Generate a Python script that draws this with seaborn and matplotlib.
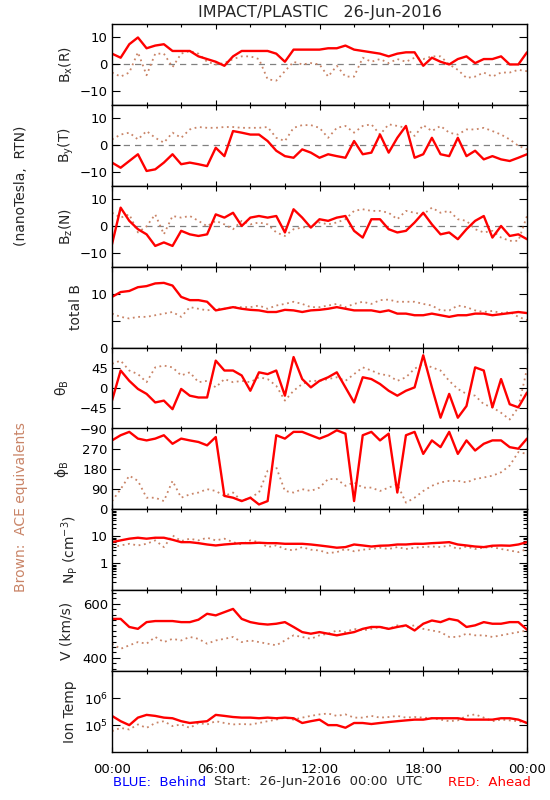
import numpy as np
import pandas as pd
import matplotlib
matplotlib.use('Agg')
import matplotlib.pyplot as plt
from matplotlib.ticker import MultipleLocator, FixedLocator, NullFormatter
import seaborn as sns

# half-hour samples, 00:00 -> 24:00
hours = np.arange(0, 24.5, 0.5)

bx_red = [4, 2.5, 7.5, 10, 6, 7, 7.5, 5, 5, 5, 3, 2, 1, -0.5, 3, 5, 5, 5, 5, 4,
          1, 5.5, 5.5, 5.5, 5.5, 6, 6, 7, 5.5, 5, 4.5, 4, 3, 4, 4.5, 4.5, -0.5, 2.5,
          1, 0, 2, 3, 0.5, 2, 2, 3, 0, 0, 4.5]
bx_ace = [-3, -4.5, -3, 4.5, -4, 4, 4, -1, 4, 5, 4, 1, 0, 0.5, 2, 3, 3, 2, -5.5, -6,
          -2.5, 1, 0, 0.5, 0, -4.5, -0.5, -4.5, -4.5, 2.5, 1, 2, 0.5, 2, 1, 2.5, 2, 3,
          3, 0, -2, -5, -4.5, -3, -4.5, -3, -3, -2, -2.5]

by_red = [-6.4, -8.3, -5.8, -3.3, -9.5, -8.9, -6.4, -3.3, -7, -6.4, -7, -7.7, -0.9, -4,
          5.3, 4.7, 4, 4, 1.6, -2, -4, -4.6, -1.5, -2.7, -4.6, -3.3, -4, -4.6, 1.6, -3.3,
          -2.7, 4, -2.7, 2.8, 7.2, -4.6, -3.3, 2.8, -3.3, -4, 2.8, -4, -2, -5.2, -4, -5.2,
          -5.8, -4.6, -3.3]
by_ace = [2.2, 4, 4.7, 2.2, 5.3, 2.8, 1, 4.7, 2.8, 5.9, 6.8, 6.5, 6.5, 6.8, 6.8, 6.5,
          6.5, 6.5, 6.8, 2.8, 1.6, 6.5, 7.5, 7.5, 6.5, 2.8, 6.5, 7.2, 4.7, 7.2, 7.8, 4,
          7.8, 7.2, 6.5, 3.5, 7.5, 5.3, 7.2, 4.7, 4, 5.9, 5.9, 6.5, 5.3, 4, 2.2, -0.2, -1.5]

bz_red = [-6.7, 6.9, 2, -1.1, -3, -7.3, -6, -7.3, -1.7, -3, -3.6, -3, 4.4, 3.2, 5, 0.1,
          3.2, 3.8, 3.2, 3.8, -2.3, 6.3, 3.2, -0.5, 2.6, 2, 3.2, 3.8, -1.7, -4.2, 2.6, 2.6,
          -1.1, -2.3, -1.7, 1.4, 5, 0.7, -3, -2.3, -4.8, -1.1, 2, 3.8, -4.2, 0.1, -3.6, -3,
          -4.8]
bz_ace = [5, 3.2, 4.4, -2.3, 0, 4.4, -3, 3.8, 3.2, 3.8, 2, 0, 2, 0.7, -1.1, 2, 0.7, 1.4,
          0.7, -2.3, -3.6, -1.1, -0.5, 0, 1.4, 0.7, 1.4, 2.6, 5.7, 6.3, 5.7, 5.7, 5, 2.6,
          5.7, 5, 4.4, 6.9, 5, 5.7, 2.6, 2, -1.1, -2.3, -1.7, -4.2, -5.4, -5.4, 3.8]

bt_red = [9.4, 10.3, 10.5, 11.2, 11.4, 11.9, 12, 11.5, 9.4, 8.8, 8.8, 8.5, 6.9, 7.2, 7.5,
          7.2, 7, 6.9, 6.6, 6.6, 7, 6.9, 6.6, 6.9, 7, 7.2, 7.5, 7.2, 6.9, 6.9, 6.9, 6.6,
          6.9, 6.3, 6.3, 6, 6, 6.3, 6, 5.7, 6, 6, 6.3, 6.3, 6, 6.2, 6.4, 6.6, 6.4]
bt_ace = [6.3, 5.7, 5.4, 5.7, 5.7, 6, 6.3, 6.6, 5.7, 7.5, 7.2, 6.9, 7.2, 7.2, 7.5, 7.5,
          7.5, 7.8, 7.2, 7.8, 8.1, 8.5, 8.1, 7.5, 7.5, 7.8, 8.1, 7.5, 8.1, 8.5, 8.1, 8.8,
          8.9, 8.5, 8.5, 8.5, 8.1, 7.8, 6.9, 6.9, 7.8, 7.5, 6.9, 6.6, 6.8, 6.4, 6.6, 5.7, 5.1]

theta_red = [-28, 39, 16, -2, -13, -32, -28, -47, -2, -17, -21, -21, 61, 39, 39, 28, -6,
             35, 31, 39, -17, 69, 20, 1.5, 16, 24, 35, 1.5, -32, 24, 20, 9, -6, -17, -6,
             1.5, 73, 1.5, -66, -13, -66, -40, 46, 39, -43, 20, -36, -43, -10]
theta_ace = [54, 61, 39, 31, 13, 46, 50, 46, 28, 35, 13, 16, 1.5, 20, 13, 16, 13, 24, 20,
             5, -28, -6, 9, 16, 16, 20, 24, 16, 31, 46, 39, 31, 28, 16, 24, 43, 54, 46, 39,
             16, -2, -13, -17, -36, -43, -55, -70, -43, 43]

phi_red = [307, 330, 345, 315, 307, 315, 330, 292, 315, 307, 300, 285, 322, 60, 52, 37,
           52, 22, 37, 330, 315, 345, 345, 330, 315, 330, 352, 337, 37, 330, 345, 307, 337,
           75, 330, 345, 247, 307, 277, 345, 247, 307, 262, 292, 307, 307, 277, 270, 315]
phi_ace = [37, 90, 150, 127, 52, 52, 37, 127, 52, 67, 75, 90, 82, 60, 75, 37, 52, 75, 172,
           187, 82, 75, 90, 82, 97, 135, 135, 105, 120, 97, 97, 82, 97, 112, 30, 52, 82,
           105, 120, 127, 127, 120, 135, 142, 150, 165, 195, 255, 247]

np_red = [6.1, 7.1, 8.2, 8.9, 8.2, 8.9, 8.9, 7.5, 6.1, 6.1, 5.6, 5, 4.6, 5, 5.3, 5.6, 5.6,
          5.8, 5.6, 5.6, 5.3, 5.3, 5.3, 5, 4.6, 4.2, 3.8, 4, 5, 4.6, 4.2, 4.5, 4.6, 5, 5,
          5.3, 5.3, 5.6, 5.8, 6.1, 5, 4.6, 4.2, 4, 4.5, 4.6, 4.5, 5, 6.1]
np_ace = [4, 4.6, 5.3, 4.6, 5.3, 7.1, 4, 10.9, 6.7, 8.2, 7.1, 8.9, 7.1, 8.2, 6.1, 5, 7.1,
          6.1, 4, 4.6, 3.4, 3, 4, 3.2, 3, 2.4, 2.6, 3.4, 2.8, 3.2, 3.4, 3.8, 3.4, 4, 3.4,
          3.8, 4, 4.2, 4, 4.6, 3.4, 4.2, 3.4, 3.8, 4, 3.4, 3, 2.6, 3.4]

v_red = [544, 544, 514, 507, 532, 536, 536, 536, 532, 532, 541, 563, 557, 569, 581, 544,
         532, 526, 523, 526, 532, 514, 495, 489, 495, 489, 483, 489, 495, 507, 514, 514,
         507, 514, 520, 501, 526, 538, 532, 544, 538, 514, 520, 532, 526, 526, 532, 532, 504]
v_ace = [452, 433, 446, 458, 452, 477, 458, 470, 464, 477, 470, 452, 464, 470, 477, 458,
         464, 458, 452, 446, 464, 483, 477, 470, 483, 489, 501, 495, 507, 501, 507, 514,
         507, 520, 514, 520, 507, 501, 495, 477, 477, 489, 483, 483, 477, 483, 489, 495, 501]

temp_red = [2.2e5, 1.4e5, 1.0e5, 1.9e5, 2.4e5, 2.2e5, 1.9e5, 1.8e5, 1.4e5, 1.2e5, 1.3e5,
            1.4e5, 2.4e5, 2.2e5, 2.0e5, 1.9e5, 1.9e5, 1.8e5, 1.9e5, 1.8e5, 1.9e5, 1.8e5,
            1.2e5, 1.4e5, 1.6e5, 1.0e5, 1.0e5, 0.8e5, 1.2e5, 1.2e5, 1.1e5, 1.2e5, 1.3e5,
            1.4e5, 1.5e5, 1.6e5, 1.6e5, 1.8e5, 1.8e5, 1.8e5, 1.8e5, 1.6e5, 1.6e5, 1.6e5,
            1.6e5, 1.8e5, 1.8e5, 1.6e5, 1.2e5]
temp_ace = [6.0e4, 7.9e4, 6.9e4, 1.06e5, 7.9e4, 1.2e5, 1.4e5, 9.2e4, 1.06e5, 7.9e4, 1.2e5,
            1.06e5, 1.4e5, 1.2e5, 1.06e5, 1.1e5, 1.06e5, 1.2e5, 1.4e5, 1.6e5, 1.9e5, 1.6e5,
            1.9e5, 2.2e5, 2.5e5, 2.7e5, 2.2e5, 2.5e5, 1.9e5, 1.9e5, 2.2e5, 1.9e5, 2.0e5,
            2.2e5, 1.9e5, 2.0e5, 1.9e5, 1.8e5, 1.6e5, 1.4e5, 1.5e5, 2.2e5, 2.5e5, 1.9e5,
            1.4e5, 1.6e5, 1.5e5, 1.4e5, 1.2e5]

RED = '#ff0000'
BROWN = '#c98467'

sns.set_theme(style='ticks')
plt.rcParams['font.family'] = ['DejaVu Sans']
plt.rcParams['mathtext.default'] = 'regular'
plt.rcParams['axes.linewidth'] = 1.0

panels = [
    # label, red, ace, ylim, ticks, ticklabels, log, label x (px), zero line
    (r'B$_{\rm x}$(R)', bx_red, bx_ace, (-15, 15), [-10, 0, 10], ['−10', '0', '10'], False, 66, True),
    (r'B$_{\rm y}$(T)', by_red, by_ace, (-15, 15), [-10, 0, 10], ['−10', '0', '10'], False, 66, True),
    (r'B$_{\rm z}$(N)', bz_red, bz_ace, (-15, 15), [-10, 0, 10], ['−10', '0', '10'], False, 66, True),
    ('total B', bt_red, bt_ace, (0, 15), [0, 5, 10], ['0', '', '10'], False, 76, False),
    (r'$\theta_{\rm B}$', theta_red, theta_ace, (-90, 90), [-90, -45, 0, 45], ['−90', '−45', '0', '45'], False, 62, False),
    (r'$\phi_{\rm B}$', phi_red, phi_ace, (0, 360), [0, 90, 180, 270], ['0', '90', '180', '270'], False, 62, False),
    (r'N$_{\rm P}$ (cm$^{-3}$)', np_red, np_ace, (0.1, 100), [1, 10], ['1', '10'], True, 70, False),
    ('V (km/s)', v_red, v_ace, (350, 650), [400, 600], ['400', '600'], False, 67, False),
    ('Ion Temp', temp_red, temp_ace, (1e4, 1e7), [1e5, 1e6], [r'10$^5$', r'10$^6$'], True, 70, False),
]

W, H = 550, 800
left_px, right_px, top_px, ph = 112, 527, 24, 80.9

fig = plt.figure(figsize=(5.5, 8), dpi=100)
fig.patch.set_facecolor('white')

n = len(panels)
for i, (label, red, ace, ylim, yt, ytl, logy, lab_x, zero) in enumerate(panels):
    top = top_px + i * ph
    ax = fig.add_axes([left_px / W, 1 - (top + ph) / H, (right_px - left_px) / W, ph / H])
    if logy:
        ax.set_yscale('log')

    df = pd.DataFrame({'hour': hours, 'red': red, 'ace': ace})

    # ACE equivalents: dotted trail of small brown dots
    sns.lineplot(data=df, x='hour', y='ace', color=BROWN, lw=1.3, ls=(0, (1, 2)), ax=ax)
    # STEREO Ahead in red
    sns.lineplot(data=df, x='hour', y='red', color=RED, lw=1.7, ax=ax)

    if zero:
        ax.axhline(0, color='#808080', lw=0.9, ls=(0, (5, 4)), zorder=0)

    ax.set_xlim(0, 24)
    ax.set_ylim(*ylim)
    ax.xaxis.set_major_locator(FixedLocator([0, 6, 12, 18, 24]))
    ax.xaxis.set_minor_locator(MultipleLocator(2))
    if i == n - 1:
        ax.set_xticklabels(['00:00', '06:00', '12:00', '18:00', '00:00'])
    else:
        ax.set_xticklabels([])

    ax.yaxis.set_major_locator(FixedLocator(yt))
    ax.set_yticklabels(ytl)
    if logy:
        ax.yaxis.set_minor_formatter(NullFormatter())
    elif label.startswith('V'):
        ax.yaxis.set_minor_locator(MultipleLocator(20))
    else:
        ax.yaxis.set_minor_locator(FixedLocator([]))

    ax.tick_params(axis='both', which='both', direction='in', top=True, right=True,
                   colors='black', labelsize=9.5, width=0.8)
    ax.tick_params(axis='y', which='major', length=6, pad=3)
    ax.tick_params(axis='y', which='minor', length=3)
    ax.tick_params(axis='x', which='major', length=3.5, pad=8)
    ax.tick_params(axis='x', which='minor', length=2)

    ax.set_xlabel('')
    ax.set_ylabel('')
    ax.text((lab_x - left_px) / (right_px - left_px), 0.5, label, transform=ax.transAxes,
            rotation=90, ha='center', va='center', fontsize=10)
    for sp in ax.spines.values():
        sp.set_visible(True)
        sp.set_color('black')

fig.text((left_px + right_px) / 2 / W, 1 - 12 / H, 'IMPACT/PLASTIC   26-Jun-2016',
         ha='center', va='center', fontsize=11.5)
fig.text(21 / W, 1 - 186 / H, '(nanoTesla,  RTN)', rotation=90, ha='center',
         va='center', fontsize=10)
fig.text(21 / W, 1 - 507 / H, 'Brown:  ACE equivalents', rotation=90, ha='center',
         va='center', fontsize=10, color=BROWN)
fig.text(113 / W, 1 - 783 / H, 'BLUE:  Behind', ha='left', va='center', fontsize=9.5,
         color='#0000ff')
fig.text(214 / W, 1 - 782 / H, 'Start:  26-Jun-2016  00:00  UTC', ha='left',
         va='center', fontsize=9.5)
fig.text(531 / W, 1 - 783 / H, 'RED:  Ahead', ha='right', va='center', fontsize=9.5,
         color=RED)

fig.savefig('out.png', dpi=100, facecolor='white')
